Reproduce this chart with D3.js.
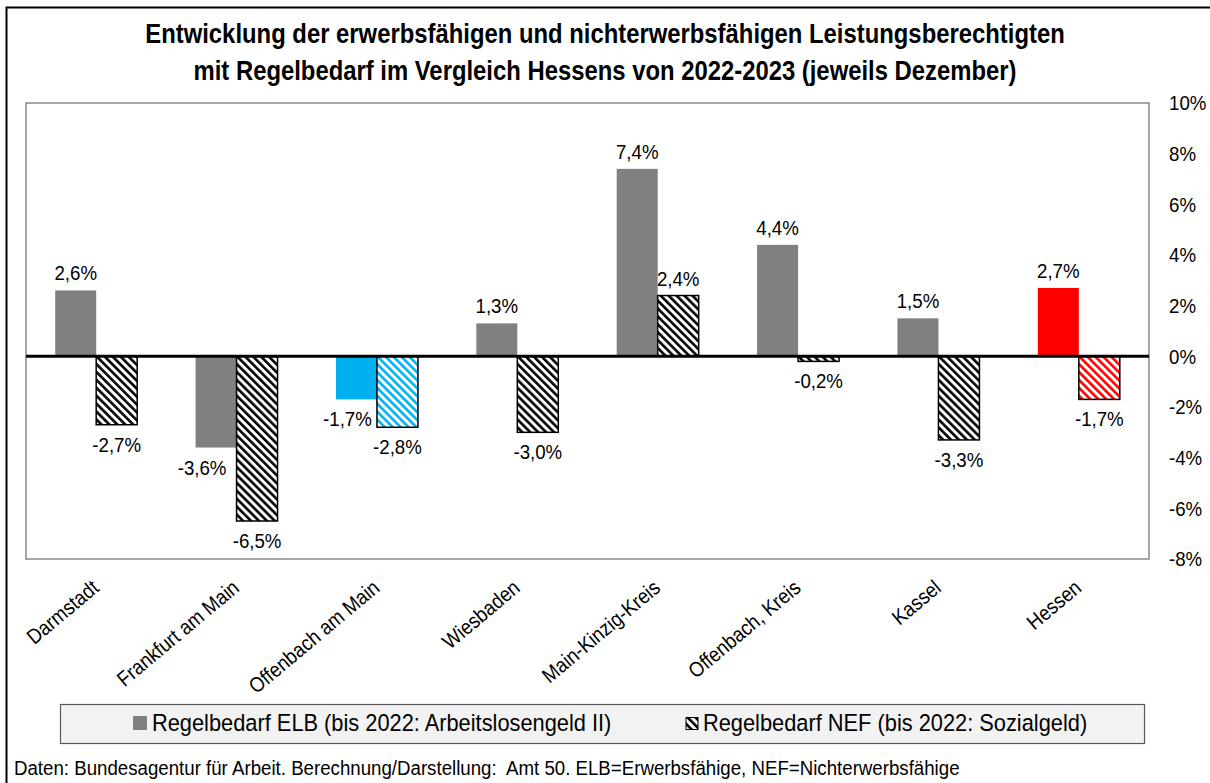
<!DOCTYPE html>
<html>
<head>
<meta charset="utf-8">
<script src="https://cdn.jsdelivr.net/npm/d3@7"></script>
<style>
  body { margin: 0; background: #fff; }
  text { font-family: "Liberation Sans", Arial, sans-serif; fill: #000; }
</style>
</head>
<body>
<div id="chart"></div>
<script>
const WIDTH = 1210;
const HEIGHT = 783;
const PLOT = { LEFT: 26, RIGHT: 1149, TOP: 103, BOTTOM: 559 };
const SX = 0.89; // reference text is a bit condensed

// data
const categories = ["Darmstadt", "Frankfurt am Main", "Offenbach am Main", "Wiesbaden",
  "Main-Kinzig-Kreis", "Offenbach, Kreis", "Kassel", "Hessen"];
const elbValues = [2.6, -3.6, -1.7, 1.3, 7.4, 4.4, 1.5, 2.7];
const nefValues = [-2.7, -6.5, -2.8, -3.0, 2.4, -0.2, -3.3, -1.7];
const yTicks = [-8, -6, -4, -2, 0, 2, 4, 6, 8, 10];
const seriesNames = ["Regelbedarf ELB (bis 2022: Arbeitslosengeld II)", "Regelbedarf NEF (bis 2022: Sozialgeld)"];
const titleLines = ["Entwicklung der erwerbsfähigen und nichterwerbsfähigen Leistungsberechtigten",
  "mit Regelbedarf im Vergleich Hessens von 2022-2023 (jeweils Dezember)"];
const footnote = "Daten: Bundesagentur für Arbeit. Berechnung/Darstellung:  Amt 50. ELB=Erwerbsfähige, NEF=Nichterwerbsfähige";

const highlight = { "Offenbach am Main": "#00b0f0", "Hessen": "#ff0000" };
const colorOf = c => highlight[c] || "#808080";
const hatchId = c => "hatch-" + (highlight[c] ? categories.indexOf(c) : "def");
// ELB labels moved left where they would touch the neighbouring bar
const elbLabelNudge = { "Frankfurt am Main": -14, "Offenbach am Main": -9 };

const de = d3.formatLocale({ decimal: ",", thousands: ".", grouping: [3], currency: ["", " €"], minus: "-" });
const fmtVal = d => de.format(".1f")(d) + "%";
const fmtTick = d => de.format("d")(d) + "%";

const rows = categories.map((c, i) => ({ cat: c, elb: elbValues[i], nef: nefValues[i] }));

var svg = d3.select("div#chart").append("svg")
    .attr("width", WIDTH)
    .attr("height", HEIGHT);

svg.append("rect").attr("width", WIDTH).attr("height", HEIGHT).attr("fill", "#fff");

// hatch patterns
var defs = svg.append("defs");
var hatchColors = [["hatch-def", "#000"]].concat(
  Object.keys(highlight).map(c => [hatchId(c), highlight[c]]));
var pat = defs.selectAll("pattern").data(hatchColors).join("pattern")
    .attr("id", d => d[0])
    .attr("patternUnits", "userSpaceOnUse")
    .attr("width", 5.6)
    .attr("height", 10)
    .attr("patternTransform", "rotate(-45)");
pat.append("rect").attr("width", 5.6).attr("height", 10).attr("fill", "#fff");
pat.append("rect").attr("width", 2.6).attr("height", 10).attr("fill", d => d[1]);

// helper for condensed text
function txt(sel, x, y, extra) {
  return sel.attr("transform", `translate(${x},${y})${extra || ""} scale(${SX},1)`);
}

// outer frame
svg.append("rect")
    .attr("x", 6.5).attr("y", 7.5)
    .attr("width", WIDTH + 10).attr("height", HEIGHT + 10)
    .attr("fill", "none").attr("stroke", "#000").attr("stroke-width", 2);

// title
svg.selectAll("text.title").data(titleLines).join("text")
    .attr("class", "title")
    .attr("text-anchor", "middle")
    .attr("font-weight", "bold")
    .attr("font-size", 26.8)
    .each(function (d, i) { txt(d3.select(this), 605, 43 + i * 37); })
    .text(d => d);

var x = d3.scaleBand(categories, [PLOT.LEFT, PLOT.RIGHT]).paddingInner(0.416).paddingOuter(0.208);
var x1 = d3.scaleBand(["elb", "nef"], [0, x.bandwidth()]);
var y = d3.scaleLinear([-8, 10], [PLOT.BOTTOM, PLOT.TOP]);

// plot area border
svg.append("rect")
    .attr("x", PLOT.LEFT).attr("y", PLOT.TOP)
    .attr("width", PLOT.RIGHT - PLOT.LEFT).attr("height", PLOT.BOTTOM - PLOT.TOP)
    .attr("fill", "none").attr("stroke", "#898989").attr("stroke-width", 1.5);

// right axis labels
svg.selectAll("text.ytick").data(yTicks).join("text")
    .attr("class", "ytick")
    .attr("font-size", 21)
    .attr("dy", "0.35em")
    .each(function (d) { txt(d3.select(this), 1169, y(d)); })
    .text(fmtTick);

// bars
var g = svg.selectAll("g.cat").data(rows).join("g")
    .attr("class", "cat")
    .attr("transform", d => `translate(${x(d.cat)},0)`);

g.append("rect")
    .attr("x", x1("elb"))
    .attr("width", x1.bandwidth())
    .attr("y", d => y(Math.max(0, d.elb)))
    .attr("height", d => Math.abs(y(d.elb) - y(0)))
    .attr("fill", d => colorOf(d.cat));

g.append("rect")
    .attr("x", x1("nef"))
    .attr("width", x1.bandwidth())
    .attr("y", d => y(Math.max(0, d.nef)))
    .attr("height", d => Math.abs(y(d.nef) - y(0)))
    .attr("fill", d => `url(#${hatchId(d.cat)})`)
    .attr("stroke", "#000")
    .attr("stroke-width", 1.5);

// value labels
var labelY = v => v >= 0 ? y(v) - 10 : y(v) + 27;
g.append("text")
    .attr("text-anchor", "middle").attr("font-size", 21)
    .each(function (d) {
      txt(d3.select(this), x1("elb") + x1.bandwidth() / 2 + (elbLabelNudge[d.cat] || 0), labelY(d.elb));
    })
    .text(d => fmtVal(d.elb));
g.append("text")
    .attr("text-anchor", "middle").attr("font-size", 21)
    .each(function (d) { txt(d3.select(this), x1("nef") + x1.bandwidth() / 2, labelY(d.nef)); })
    .text(d => fmtVal(d.nef));

// zero line
svg.append("line")
    .attr("x1", PLOT.LEFT).attr("x2", PLOT.RIGHT)
    .attr("y1", y(0)).attr("y2", y(0))
    .attr("stroke", "#000").attr("stroke-width", 3);

// category labels
svg.selectAll("text.cat").data(categories).join("text")
    .attr("class", "cat")
    .attr("text-anchor", "end")
    .attr("font-size", 21)
    .each(function (d) { txt(d3.select(this), x(d) + x.bandwidth() / 2 + 4, 590, " rotate(-40)"); })
    .text(d => d);

// legend
svg.append("rect")
    .attr("x", 60.5).attr("y", 704.5).attr("width", 1084).attr("height", 39)
    .attr("fill", "#f2f2f2").attr("stroke", "#595959").attr("stroke-width", 1.2);

var legendItems = [
  { name: seriesNames[0], mx: 133, tx: 152, fill: "#808080", stroke: "none" },
  { name: seriesNames[1], mx: 686, tx: 703, fill: "url(#hatch-def)", stroke: "#000" }
];
var lg = svg.selectAll("g.leg").data(legendItems).join("g").attr("class", "leg");
lg.append("rect")
    .attr("x", d => d.mx).attr("y", d => d.stroke === "none" ? 716 : 717.5)
    .attr("width", d => d.stroke === "none" ? 14 : 12)
    .attr("height", d => d.stroke === "none" ? 14 : 12)
    .attr("fill", d => d.fill).attr("stroke", d => d.stroke).attr("stroke-width", 1);
lg.append("text")
    .attr("font-size", 24.5)
    .each(function (d) { txt(d3.select(this), d.tx, 731); })
    .text(d => d.name);

// footnote
svg.append("text")
    .attr("font-size", 21)
    .style("white-space", "pre")
    .each(function () { txt(d3.select(this), 14, 775); })
    .text(footnote);
</script>
</body>
</html>
